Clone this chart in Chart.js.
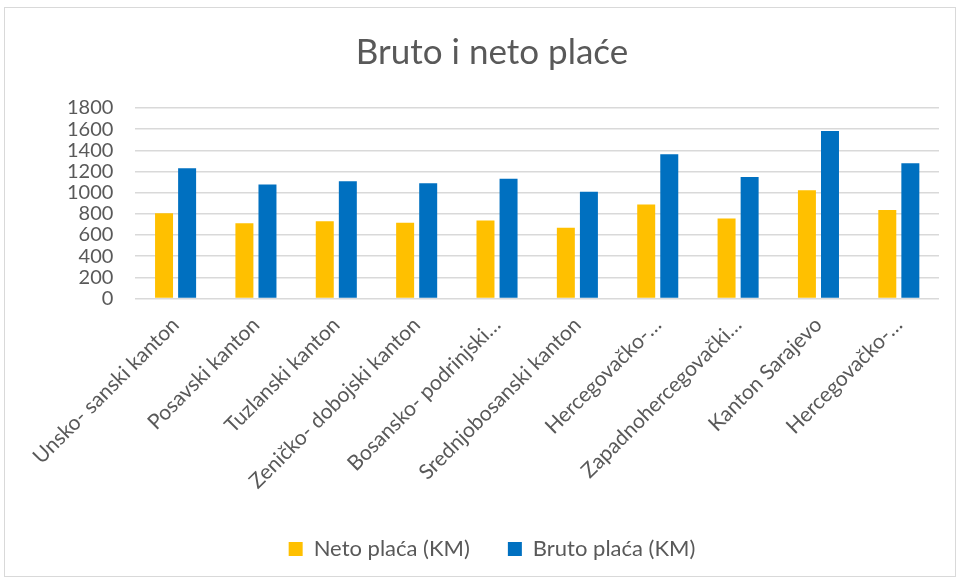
<!DOCTYPE html>
<html lang="en">
<head>
    <meta charset="UTF-8">
    <title>Bruto i neto plaće</title>
    <style>
        body {
            margin: 0;
            background-color: #fff;
        }

        .chart-box {
            position: absolute;
            left: 4px;
            top: 7px;
            width: 950px;
            height: 568px;
            border: 1px solid #d9d9d9;
        }
    </style>
</head>
<body>
    <div class="chart-box">
        <canvas id="place-chart" width="950" height="568"></canvas>
    </div>
    <script src="https://cdn.jsdelivr.net/npm/chart.js"></script>
    <script>
    const kantoni = [
        'Unsko- sanski kanton',
        'Posavski kanton',
        'Tuzlanski kanton',
        'Zeničko- dobojski kanton',
        'Bosansko- podrinjski…',
        'Srednjobosanski kanton',
        'Hercegovačko-…',
        'Zapadnohercegovački…',
        'Kanton Sarajevo',
        'Hercegovačko-…'
    ];
    const netoPlaca = [805, 710, 731, 715, 738, 668, 889, 757, 1022, 835];
    const brutoPlaca = [1230, 1078, 1107, 1088, 1131, 1008, 1362, 1148, 1583, 1277];

    const textColor = '#595959';
    const fontName = 'Lato, "Liberation Sans", sans-serif';

    const ctx = document.getElementById('place-chart').getContext('2d');
    new Chart(ctx, {
        type: 'bar',
        data: {
            labels: kantoni,
            datasets: [
                {
                    label: 'Neto plaća (KM)',
                    data: netoPlaca,
                    backgroundColor: '#ffc000',
                    barPercentage: 0.78,
                    categoryPercentage: 0.574
                },
                {
                    label: 'Bruto plaća (KM)',
                    data: brutoPlaca,
                    backgroundColor: '#0070c0',
                    barPercentage: 0.78,
                    categoryPercentage: 0.574
                }
            ]
        },
        options: {
            responsive: false,
            animation: false,
            layout: {
                padding: { left: 40, right: 16, top: 0, bottom: 6 }
            },
            plugins: {
                title: {
                    display: true,
                    text: 'Bruto i neto plaće',
                    color: textColor,
                    font: { family: fontName, size: 35, weight: 'normal' },
                    padding: { top: 24, bottom: 34 }
                },
                legend: {
                    position: 'bottom',
                    labels: {
                        color: textColor,
                        font: { family: fontName, size: 22 },
                        boxWidth: 14,
                        boxHeight: 14,
                        padding: 38
                    }
                },
                tooltip: { enabled: false }
            },
            scales: {
                x: {
                    grid: { display: false },
                    border: { display: false },
                    ticks: {
                        color: textColor,
                        font: { family: fontName, size: 21 },
                        minRotation: 45,
                        maxRotation: 45,
                        autoSkip: false,
                        padding: 6
                    }
                },
                y: {
                    min: 0,
                    max: 1800,
                    border: { display: false },
                    grid: { color: '#d9d9d9', lineWidth: 1.5, drawTicks: false },
                    ticks: {
                        stepSize: 200,
                        autoSkip: false,
                        color: textColor,
                        font: { family: fontName, size: 20 },
                        padding: 22,
                        callback: value => String(value)
                    }
                }
            }
        }
    });
    </script>
</body>
</html>
